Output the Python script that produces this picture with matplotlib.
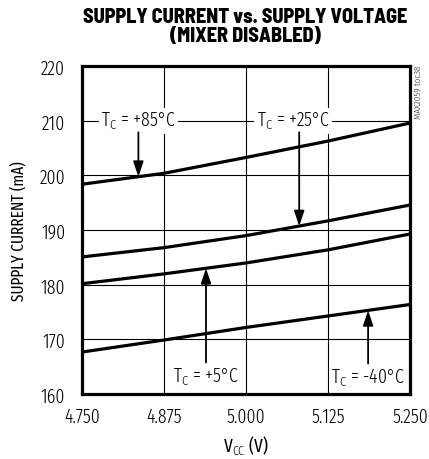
import numpy as np
import matplotlib
matplotlib.use("Agg")
import matplotlib.pyplot as plt

# data
vcc = [4.750, 4.875, 5.000, 5.125, 5.250]
i_85 = [198.4, 200.4, 203.3, 206.3, 209.6]
i_25 = [185.1, 186.8, 189.0, 191.7, 194.6]
i_5 = [180.2, 182.0, 184.0, 186.4, 189.3]
i_m40 = [167.7, 169.9, 172.2, 174.3, 176.4]

x_ticks = [4.750, 4.875, 5.000, 5.125, 5.250]
x_ticklabels = ["4.750", "4.875", "5.000", "5.125", "5.250"]
y_ticks = [160, 170, 180, 190, 200, 210, 220]

font = "Fira Sans Extra Condensed"
plt.rcParams["font.family"] = [font, "DejaVu Sans"]
plt.rcParams["font.weight"] = 300
plt.rcParams["mathtext.fontset"] = "custom"
plt.rcParams["mathtext.rm"] = font + ":weight=300"
plt.rcParams["mathtext.it"] = font + ":weight=300"

fig = plt.figure(figsize=(4.29, 4.60), dpi=100)
ax = fig.add_axes([0.191, 0.141, 0.765, 0.713])

for y in [i_85, i_25, i_5, i_m40]:
    ax.plot(vcc, y, color="black", lw=2.3, solid_capstyle="butt", zorder=3)

ax.set_xlim(4.75, 5.25)
ax.set_ylim(160, 220)
ax.set_xticks(x_ticks)
ax.set_xticklabels(x_ticklabels)
ax.set_yticks(y_ticks)
ax.tick_params(length=0, labelsize=14)
ax.tick_params(axis="y", pad=12)
ax.tick_params(axis="x", pad=9)
ax.grid(True, color="black", lw=0.8)
for s in ax.spines.values():
    s.set_linewidth(2.3)

ax.set_xlabel(r"V$_{\mathrm{CC}}$ (V)", fontsize=13.5, labelpad=5)
ax.set_ylabel("SUPPLY CURRENT (mA)", fontsize=12, labelpad=9)

fig.text(0.571, 0.982, "SUPPLY CURRENT vs. SUPPLY VOLTAGE\n(MIXER DISABLED)",
         ha="center", va="top", fontsize=14.5, family="Barlow Semi Condensed",
         fontweight=800, linespacing=1.0)

fig.text(0.975, 0.856, "MAX2059 toc38", rotation=90, ha="center", va="top",
         fontsize=7, color="#333333")

box = dict(facecolor="white", edgecolor="none", pad=1.5)


def label(x, y, txt):
    ax.text(x, y, txt, ha="center", va="center", fontsize=14, bbox=box,
            zorder=4)


def arrow(x, y0, curve):
    tip = np.interp(x, vcc, curve)
    ax.annotate("", xy=(x, tip), xytext=(x, y0),
                arrowprops=dict(arrowstyle="-|>,head_length=0.65,head_width=0.22",
                                color="black", lw=1.3, mutation_scale=14,
                                shrinkA=0, shrinkB=0), zorder=5)


label(4.836, 210, r"T$_{\mathrm{C}}$ = +85°C")
arrow(4.836, 207.9, i_85)
label(5.072, 210, r"T$_{\mathrm{C}}$ = +25°C")
arrow(5.081, 207.9, i_25)
label(4.939, 163.2, r"T$_{\mathrm{C}}$ = +5°C")
arrow(4.939, 165.8, i_5)
label(5.186, 163.2, r"T$_{\mathrm{C}}$ = -40°C")
arrow(5.186, 165.6, i_m40)

fig.savefig("out.png", dpi=100)
